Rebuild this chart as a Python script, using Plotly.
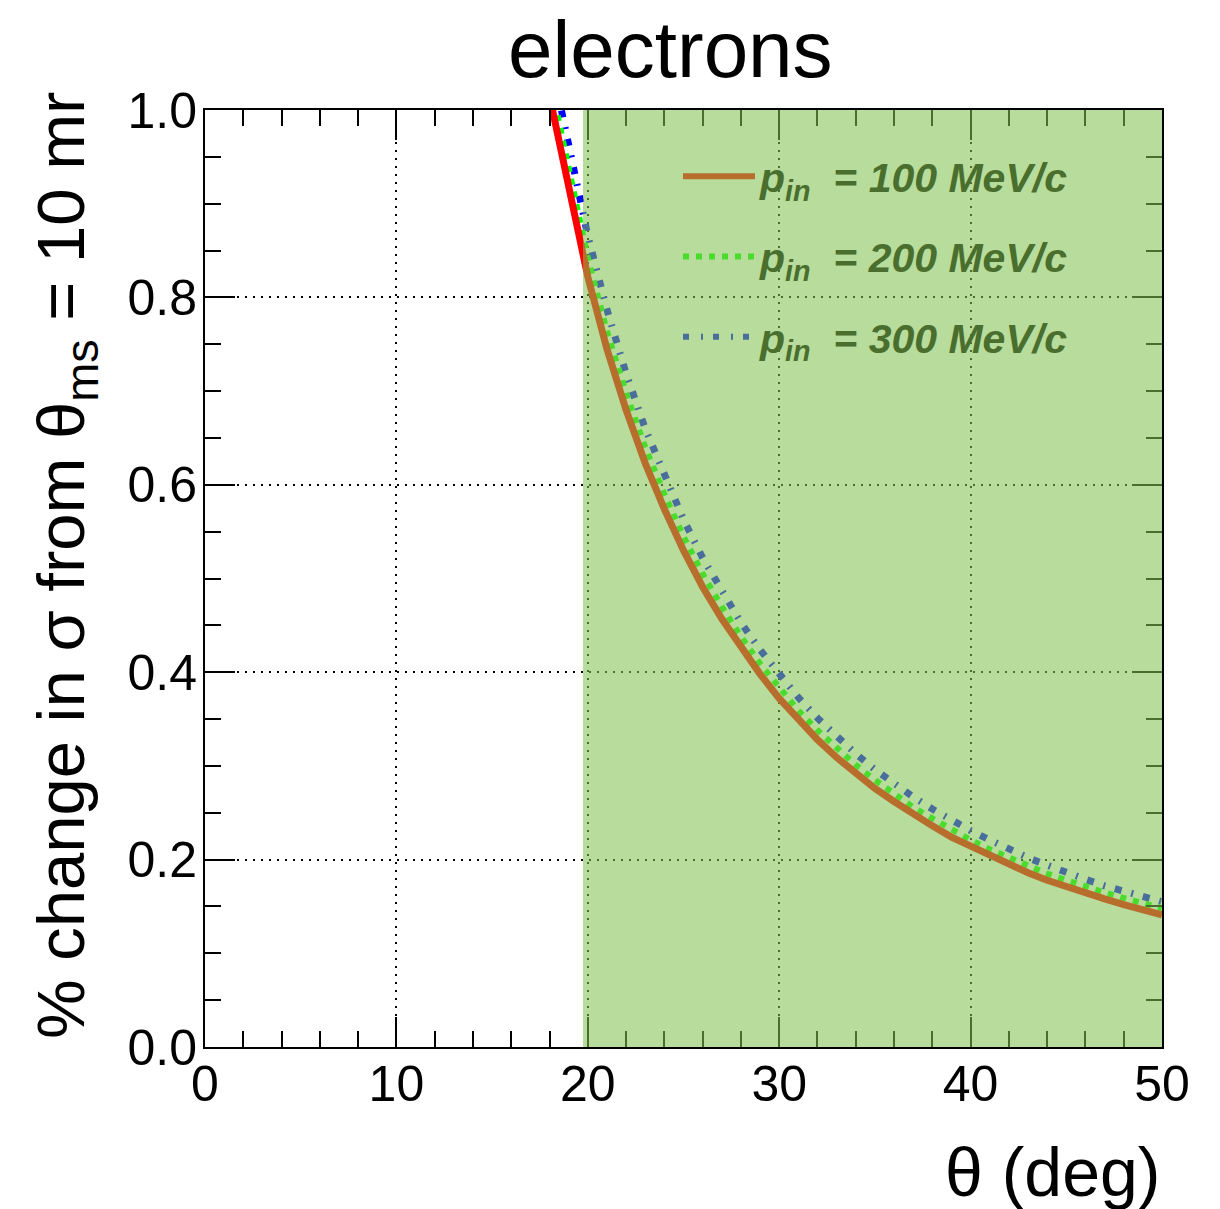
import plotly.graph_objects as go

theta_deg = list(range(18, 51))
p100 = [1.015, 0.915, 0.822, 0.745, 0.680, 0.623, 0.574, 0.530, 0.491, 0.457, 0.426,
        0.398, 0.372, 0.349, 0.328, 0.309, 0.292, 0.276, 0.262, 0.248, 0.236, 0.224,
        0.214, 0.204, 0.195, 0.186, 0.178, 0.171, 0.164, 0.158, 0.152, 0.146, 0.141]
p200 = [1.035, 0.935, 0.842, 0.764, 0.698, 0.640, 0.590, 0.545, 0.505, 0.470, 0.438,
        0.409, 0.383, 0.359, 0.338, 0.319, 0.301, 0.285, 0.270, 0.256, 0.244, 0.232,
        0.221, 0.211, 0.202, 0.193, 0.185, 0.178, 0.171, 0.165, 0.159, 0.153, 0.148]
p300 = [1.060, 0.960, 0.866, 0.787, 0.719, 0.660, 0.609, 0.563, 0.522, 0.486, 0.453,
        0.424, 0.397, 0.373, 0.351, 0.331, 0.313, 0.296, 0.281, 0.267, 0.254, 0.242,
        0.231, 0.221, 0.211, 0.202, 0.194, 0.186, 0.179, 0.172, 0.166, 0.160, 0.155]
legend_labels = ["= 100 MeV/c", "= 200 MeV/c", "= 300 MeV/c"]
band_range = [19.75, 50]

FONT = "Liberation Sans, Arial, sans-serif"

fig = go.Figure()
# curves (300 first so 100 ends on top)
fig.add_trace(go.Scatter(x=theta_deg, y=p300, mode="lines", showlegend=False,
                         line=dict(color="rgb(0,0,255)", width=7, dash="7px,10px,2px,10px")))
fig.add_trace(go.Scatter(x=theta_deg, y=p200, mode="lines", showlegend=False,
                         line=dict(color="rgb(0,255,0)", width=6, dash="6px,7px")))
fig.add_trace(go.Scatter(x=theta_deg, y=p100, mode="lines", showlegend=False,
                         line=dict(color="rgb(255,0,0)", width=7)))

# legend entries (colours as seen through the green band)
leg_styles = [("rgb(183,110,45)", "solid"), ("rgb(73,220,45)", "6px,7px"),
              ("rgb(73,110,155)", "6px,12px,2px,10px")]
for i, (lab, (col, dsh)) in enumerate(zip(legend_labels, leg_styles)):
    fig.add_trace(go.Scatter(x=[None], y=[None], mode="lines", legendgroup=f"g{i}",
                             name=f"<b><i>p<sub>in</sub>  {lab}</i></b>",
                             line=dict(color=col, width=6, dash=dsh)))

# translucent green band drawn over everything
fig.add_shape(type="rect", xref="x", yref="y", x0=band_range[0], x1=band_range[1],
              y0=0, y1=1, fillcolor="rgba(128,193,79,0.57)", line=dict(width=0),
              layer="above")

axis_common = dict(showline=True, linecolor="black", linewidth=2, mirror="allticks",
                   ticks="inside", ticklen=30, tickwidth=2, tickcolor="black",
                   showgrid=True, gridcolor="black", gridwidth=2, griddash="2px,6px",
                   zeroline=False,
                   tickfont=dict(family=FONT, size=50, color="black"))

fig.update_xaxes(range=[0, 50], dtick=10, tick0=0, ticklabelstandoff=-8,
                 minor=dict(dtick=2, ticks="inside", ticklen=16, tickwidth=2,
                            tickcolor="black", showgrid=False),
                 **axis_common)
fig.update_yaxes(range=[0, 1], dtick=0.2, tick0=0, tickformat=".1f", ticklabelstandoff=-4,
                 minor=dict(dtick=0.05, ticks="inside", ticklen=16, tickwidth=2,
                            tickcolor="black", showgrid=False),
                 **axis_common)

L, R, T, B = 205, 58, 110, 162
W, H = 1220, 1209
pw, ph = W - L - R, H - T - B

fig.add_annotation(text="% change in σ from θ<sub>ms</sub> = 10 mr", textangle=-90,
                   xref="paper", yref="paper", x=(65 - L) / pw, y=(H - B - 566) / ph,
                   xanchor="center", yanchor="middle", showarrow=False,
                   font=dict(family=FONT, size=67, color="black"))
fig.add_annotation(text="θ (deg)", xref="paper", yref="paper", x=1.0,
                   y=(H - B - 1172) / ph, xanchor="right", yanchor="middle",
                   showarrow=False, font=dict(family=FONT, size=68, color="black"))
fig.add_annotation(text="electrons", xref="paper", yref="paper", x=(670 - L) / pw,
                   y=(H - B - 50) / ph, xanchor="center", yanchor="middle",
                   showarrow=False, font=dict(family=FONT, size=80, color="black"))

fig.update_layout(
    width=W, height=H,
    margin=dict(l=L, r=R, t=T, b=B),
    paper_bgcolor="white", plot_bgcolor="white",
    legend=dict(x=(678 - L) / pw, y=(H - B - 143) / ph, xanchor="left", yanchor="top",
                bgcolor="rgba(0,0,0,0)", borderwidth=0, itemwidth=72,
                tracegroupgap=24,
                font=dict(family=FONT, size=41, color="rgb(73,110,45)")),
)

fig.write_html("out.html")
